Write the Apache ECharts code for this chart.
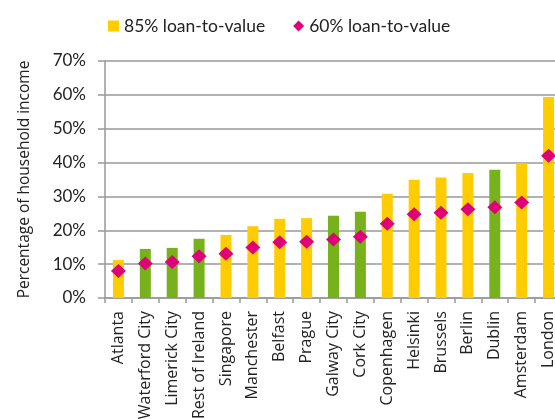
<!DOCTYPE html>
<html>
<head>
<meta charset="utf-8">
<script src="https://cdn.jsdelivr.net/npm/echarts@6/dist/echarts.min.js"></script>
<style>
  html, body { margin: 0; padding: 0; background: #fff; }
  #chart { width: 555px; height: 419px; }
</style>
</head>
<body>
<div id="chart"></div>
<script>
// categories (cities)
var cities = ["Atlanta", "Waterford City", "Limerick City", "Rest of Ireland", "Singapore",
  "Manchester", "Belfast", "Prague", "Galway City", "Cork City", "Copenhagen",
  "Helsinki", "Brussels", "Berlin", "Dublin", "Amsterdam", "London"];
// Irish locations are drawn in green
var irish = ["Waterford City", "Limerick City", "Rest of Ireland", "Galway City", "Cork City", "Dublin"];
// 85% loan-to-value (bars), percent of household income
var ltv85 = [11.2, 14.5, 14.8, 17.5, 18.6, 21.2, 23.4, 23.6, 24.3, 25.5, 30.8, 34.9, 35.6, 36.9, 37.9, 39.8, 59.4];
// 60% loan-to-value (diamonds)
var ltv60 = [8.0, 10.2, 10.6, 12.3, 13.1, 14.9, 16.5, 16.6, 17.3, 18.1, 21.9, 24.7, 25.2, 26.2, 26.8, 28.2, 42.0];
var yTicks = [0, 10, 20, 30, 40, 50, 60, 70];

var yellow = "#FFCC00";
var green = "#77B21C";
var pink = "#E0007A";

var chart = echarts.init(document.getElementById("chart"));

var barData = ltv85.map(function (v, i) {
  return {
    value: v,
    itemStyle: { color: irish.indexOf(cities[i]) >= 0 ? green : yellow }
  };
});

var option = {
  animation: false,
  textStyle: { fontFamily: "Lato" },
  legend: {
    top: 12,
    left: 103,
    itemGap: 28,
    itemWidth: 11,
    itemHeight: 11,
    textStyle: { fontSize: 17.5, color: "#222", fontFamily: "Lato" },
    data: [
      { name: "85% loan-to-value", icon: "rect", itemStyle: { color: yellow } },
      { name: "60% loan-to-value", icon: "diamond", itemStyle: { color: pink } }
    ]
  },
  grid: { left: 105, right: -7, top: 61, bottom: 121, containLabel: false, outerBoundsMode: "none" },
  xAxis: {
    type: "category",
    data: cities,
    boundaryGap: true,
    axisLine: { show: true, lineStyle: { color: "#999", width: 1.5 } },
    axisTick: { show: true, length: 5, lineStyle: { color: "#999", width: 1.5 } },
    axisLabel: {
      rotate: 90,
      interval: 0,
      margin: 13,
      fontSize: 16,
      color: "#222",
      fontFamily: "Open Sans"
    }
  },
  yAxis: {
    type: "value",
    min: 0,
    max: 70,
    interval: 10,
    name: "Percentage of household income",
    nameLocation: "middle",
    nameGap: 72,
    nameTextStyle: { fontSize: 15.5, color: "#222", fontFamily: "Open Sans" },
    axisLine: { show: true, lineStyle: { color: "#999", width: 1.5 } },
    axisTick: { show: true, length: 7, lineStyle: { color: "#999", width: 1.5 } },
    splitLine: { show: true, lineStyle: { color: "#999", width: 1.5 } },
    axisLabel: {
      margin: 19,
      fontSize: 17,
      color: "#222",
      fontFamily: "Lato",
      formatter: function (v) { return yTicks.indexOf(v) >= 0 ? v + "%" : ""; }
    }
  },
  series: [
    {
      name: "85% loan-to-value",
      type: "bar",
      barWidth: 11,
      data: barData
    },
    {
      name: "60% loan-to-value",
      type: "scatter",
      symbol: "diamond",
      symbolSize: [15, 14],
      itemStyle: { color: pink, opacity: 1 },
      z: 3,
      data: ltv60
    }
  ]
};

chart.setOption(option);
</script>
</body>
</html>
